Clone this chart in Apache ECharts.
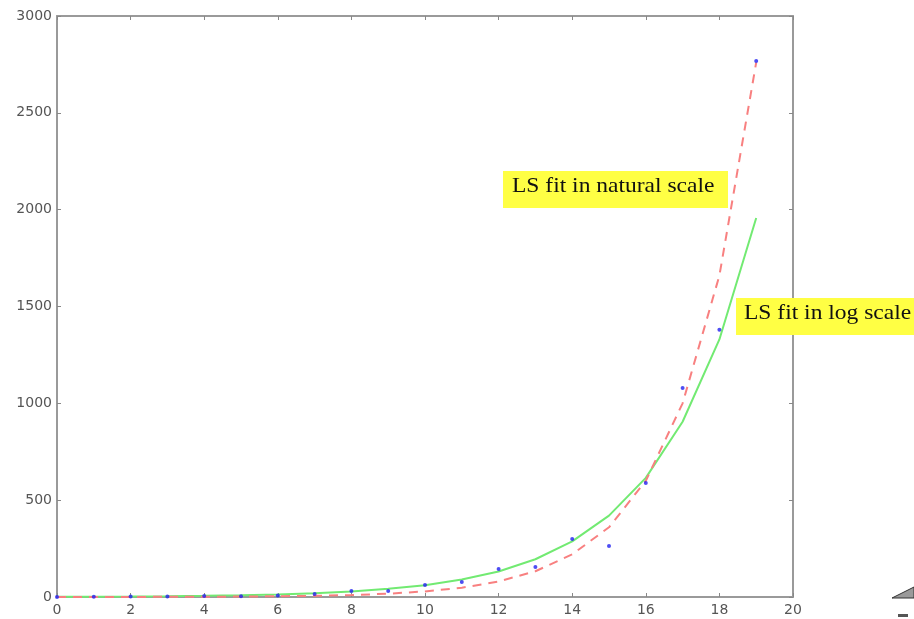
<!DOCTYPE html>
<html>
<head>
<meta charset="utf-8">
<script src="https://cdn.jsdelivr.net/npm/echarts@6/dist/echarts.min.js"></script>
<style>
html,body{margin:0;padding:0;background:#fff;}
#c{width:914px;height:619px;}
</style>
</head>
<body>
<div id="c"></div>
<script>
// x positions
var xs = [0,1,2,3,4,5,6,7,8,9,10,11,12,13,14,15,16,17,18,19];
// observed data (blue dots)
var observed = [0,1,3,2,5,4,8,15,31,31,62,77,145,155,299,263,589,1079,1380,2767];
// LS fit in natural scale (red dashed)
var fitNatural = [0.2,0.3,0.5,0.8,1.4,2.3,3.8,6.3,10,17,29,48,80,133,220,360,600,1000,1660,2760];
// LS fit in log scale (green)
var fitLog = [1.3,1.9,2.8,4.1,6,9,13,19,28,42,61,90,132,195,287,420,615,905,1330,1957];
// tick settings
var xTicks = [0,2,4,6,8,10,12,14,16,18,20];
var yTicks = [0,500,1000,1500,2000,2500,3000];
var labelNatural = 'LS fit in natural scale';
var labelLog = 'LS fit in log scale';

function pairs(ys){ return xs.map(function(x,i){ return [x, ys[i]]; }); }

var axisLine = {show:true, onZero:false, lineStyle:{color:'#9a9a9a', width:2}};
var tickStyle = {show:true, inside:true, length:4, lineStyle:{color:'#888', width:1}};
var labelStyle = {color:'#555', fontSize:14, fontFamily:'DejaVu Sans, sans-serif',
                  formatter:function(v){ return String(v); }};

var chart = echarts.init(document.getElementById('c'));
chart.setOption({
  animation:false,
  backgroundColor:'#fff',
  grid:{left:57, right:121, top:16, bottom:22},
  xAxis:[
    {type:'value', min:xTicks[0], max:xTicks[xTicks.length-1], interval:2,
     axisLine:axisLine, axisTick:tickStyle, splitLine:{show:false},
     axisLabel:Object.assign({margin:6}, labelStyle)},
    {type:'value', position:'top', min:xTicks[0], max:xTicks[xTicks.length-1], interval:2,
     axisLine:axisLine, axisTick:tickStyle, splitLine:{show:false}, axisLabel:{show:false}}
  ],
  yAxis:[
    {type:'value', min:yTicks[0], max:yTicks[yTicks.length-1], interval:500,
     axisLine:axisLine, axisTick:tickStyle, splitLine:{show:false},
     axisLabel:Object.assign({margin:5}, labelStyle)},
    {type:'value', position:'right', min:yTicks[0], max:yTicks[yTicks.length-1], interval:500,
     axisLine:axisLine, axisTick:tickStyle, splitLine:{show:false}, axisLabel:{show:false}}
  ],
  series:[
    {type:'line', name:'log', data:pairs(fitLog), showSymbol:false, symbol:'none',
     lineStyle:{color:'#72ea72', width:2}, z:2},
    {type:'line', name:'natural', data:pairs(fitNatural), showSymbol:false, symbol:'none',
     lineStyle:{color:'#f88080', width:2, type:[9,7]}, z:3},
    {type:'scatter', name:'data', data:pairs(observed), symbol:'circle', symbolSize:4,
     itemStyle:{color:'#2020f0'}, z:4}
  ],
  graphic:[
    {type:'rect', left:503, top:171, shape:{width:225, height:37}, style:{fill:'#ffff44'}, z:10},
    {type:'text', x:512, y:176, scaleX:1.12, style:{text:labelNatural, font:'21px "Liberation Serif", "DejaVu Serif", serif', fill:'#111'}, z:11},
    {type:'rect', left:736, top:298, shape:{width:180, height:37}, style:{fill:'#ffff44'}, z:10},
    {type:'text', x:744, y:303, scaleX:1.12, style:{text:labelLog, font:'21px "Liberation Serif", "DejaVu Serif", serif', fill:'#111'}, z:11},
    {type:'polygon', shape:{points:[[892,598],[914,587],[914,598]]}, style:{fill:'#9a9a9a', stroke:'#333', lineWidth:1}, z:10},
    {type:'rect', left:898, top:614, shape:{width:10, height:3}, style:{fill:'#555'}, z:10}
  ]
});
</script>
</body>
</html>
